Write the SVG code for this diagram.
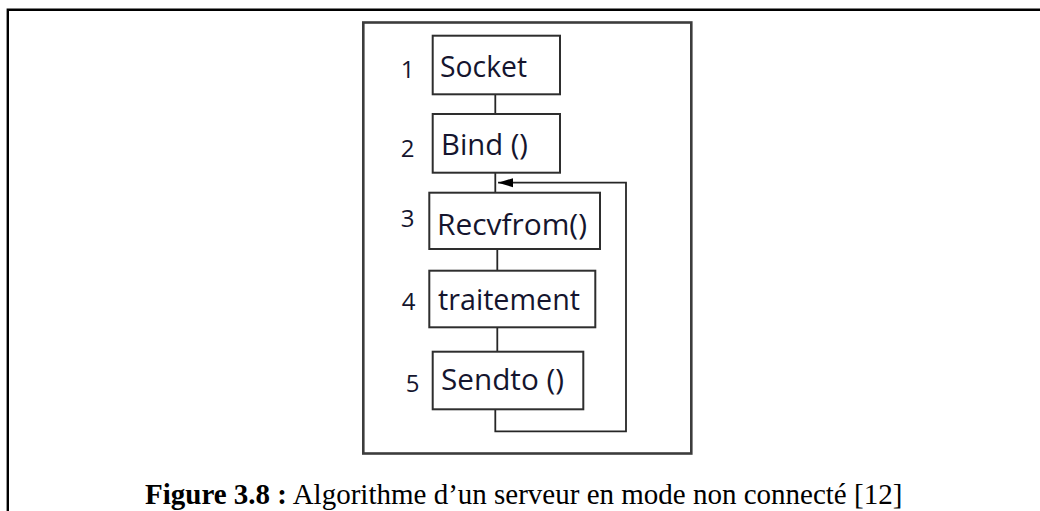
<svg xmlns="http://www.w3.org/2000/svg" width="1040" height="511" viewBox="0 0 1040 511">
  <style>
    .frame { fill: none; stroke: #000; stroke-width: 2.4; }
    .panel { fill: #fff; stroke: #3c3c3c; stroke-width: 2.6; }
    .node rect { fill: #fff; stroke: #2e2e2e; stroke-width: 2; }
    .label { font-family: "Open Sans", "Noto Sans", sans-serif; font-size: 28.5px; fill: #15152e; }
    .num { font-family: "Open Sans", "Noto Sans", sans-serif; font-size: 24px; fill: #15152e; text-anchor: middle; }
    .wire { fill: none; stroke: #262626; stroke-width: 1.8; }
    .caption { font-family: "Liberation Serif", "Times New Roman", serif; font-size: 29px; fill: #000; }
  </style>
  <defs>
    <!-- filled triangular head, tip at the path end -->
    <marker id="arrow" markerUnits="userSpaceOnUse" markerWidth="16" markerHeight="10" refX="15" refY="5" orient="auto">
      <path d="M15,5 L0,0.5 L0,9.5 Z" fill="#000"/>
    </marker>
  </defs>

  <rect width="1040" height="511" fill="#fff"/>

  <!-- page frame (open at bottom and right) -->
  <path class="frame" d="M7.8,511 V9.8 H1040"/>

  <!-- figure panel -->
  <rect class="panel" x="363.3" y="22.5" width="328" height="431"/>

  <!-- connectors -->
  <g id="connectors">
    <line class="wire" x1="495.3" y1="94" x2="495.3" y2="114"/>
    <line class="wire" x1="495.3" y1="172.7" x2="495.3" y2="192.7"/>
    <line class="wire" x1="497.3" y1="249" x2="497.3" y2="270.7"/>
    <line class="wire" x1="497.3" y1="327.3" x2="497.3" y2="351.7"/>
    <path class="wire" d="M495.3,409.3 V431.3 H626 V182.7 H498" marker-end="url(#arrow)"/>
  </g>

  <!-- step nodes -->
  <g id="node-socket" class="node">
    <rect x="432.7" y="35.7" width="127.3" height="58.6"/>
    <text class="num" x="407.5" y="78.3">1</text>
    <text class="label" x="440" y="77.3" textLength="87" lengthAdjust="spacingAndGlyphs">Socket</text>
  </g>
  <g id="node-bind" class="node">
    <rect x="432.7" y="114" width="127.3" height="58.7"/>
    <text class="num" x="407.5" y="156.7">2</text>
    <text class="label" x="441" y="155" textLength="87" lengthAdjust="spacingAndGlyphs">Bind ()</text>
  </g>
  <g id="node-recvfrom" class="node">
    <rect x="429.3" y="192.7" width="170.7" height="56.3"/>
    <text class="num" x="407.5" y="226.7">3</text>
    <text class="label" x="437" y="235" textLength="150" lengthAdjust="spacingAndGlyphs">Recvfrom()</text>
  </g>
  <g id="node-traitement" class="node">
    <rect x="429.3" y="270.7" width="166" height="56.6"/>
    <text class="num" x="408.7" y="310">4</text>
    <text class="label" x="438" y="310" textLength="142" lengthAdjust="spacingAndGlyphs">traitement</text>
  </g>
  <g id="node-sendto" class="node">
    <rect x="432.7" y="351.7" width="150.6" height="57.6"/>
    <text class="num" x="412.7" y="391.7">5</text>
    <text class="label" x="441" y="390" textLength="123" lengthAdjust="spacingAndGlyphs">Sendto ()</text>
  </g>

  <!-- caption -->
  <text class="caption" x="145" y="504"><tspan font-weight="bold">Figure 3.8 :</tspan> Algorithme d’un serveur en mode non connecté [12]</text>
</svg>
